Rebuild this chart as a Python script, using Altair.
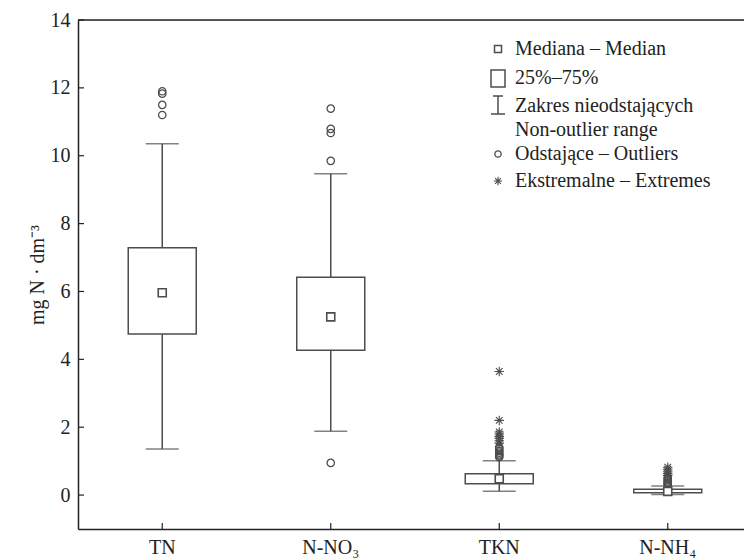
import altair as alt
import pandas as pd

categories = ["TN", "N-NO₃", "TKN", "N-NH₄"]
q1 = [4.75, 4.27, 0.33, 0.07]
median = [5.96, 5.25, 0.48, 0.11]
q3 = [7.29, 6.42, 0.63, 0.17]
whisker_low = [1.36, 1.88, 0.11, 0.02]
whisker_high = [10.35, 9.47, 1.01, 0.27]

outliers_tn = [11.2, 11.5, 11.83, 11.9]
outliers_no3 = [0.95, 9.85, 10.67, 10.79, 11.39]
outliers_tkn = [1.12, 1.16, 1.2, 1.25, 1.3, 1.36, 1.41]
outliers_nh4 = [0.3, 0.33, 0.36, 0.4, 0.44, 0.48, 0.52]
extremes_tkn = [1.53, 1.6, 1.67, 1.73, 1.8, 1.86, 2.2, 3.64]
extremes_nh4 = [0.58, 0.64, 0.7, 0.76, 0.82]

y_ticks = [0, 2, 4, 6, 8, 10, 12, 14]
legend_labels = ["Mediana – Median", "25%–75%", "Zakres nieodstających",
                 "Non-outlier range", "Odstające – Outliers", "Ekstremalne – Extremes"]
y_title = "mg N · dm⁻³"

FONT = "Liberation Serif"
BOX = "#4d4d4d"
AX = "#222222"
W, H = 666, 509
FS = 20

stats = pd.DataFrame({"cat": categories, "q1": q1, "med": median, "q3": q3,
                      "lo": whisker_low, "hi": whisker_high})
out_df = pd.DataFrame(
    [{"cat": categories[0], "v": v} for v in outliers_tn]
    + [{"cat": categories[1], "v": v} for v in outliers_no3]
    + [{"cat": categories[2], "v": v} for v in outliers_tkn]
    + [{"cat": categories[3], "v": v} for v in outliers_nh4])
ext_df = pd.DataFrame(
    [{"cat": categories[2], "v": v} for v in extremes_tkn]
    + [{"cat": categories[3], "v": v} for v in extremes_nh4])
tick_df = pd.DataFrame({"v": y_ticks})
dummy = pd.DataFrame({"k": [0]})

xscale = alt.Scale(domain=categories, range=[0, 674], paddingInner=0, paddingOuter=0)
yscale = alt.Scale(domain=[-1, 14], nice=False, zero=False)

xaxis = alt.Axis(title=None, labelAngle=0, labelFont=FONT, labelFontSize=FS,
                 labelColor=AX, tickSize=0, labelPadding=8,
                 domainColor=AX, domainWidth=1.5, grid=False)
yaxis = alt.Axis(values=y_ticks, title=y_title, titleFont=FONT, titleFontSize=FS,
                 titleFontWeight="normal", titleColor=AX, titlePadding=3,
                 labelFont=FONT, labelFontSize=FS, labelColor=AX, labelPadding=8,
                 tickSize=0, grid=False, domainColor=AX, domainWidth=1.5)


def X():
    return alt.X("cat:N", scale=xscale, sort=categories, axis=xaxis)


def Y(field):
    return alt.Y(field, scale=yscale, axis=yaxis)


base = alt.Chart(stats)

whisk_lo = base.mark_rule(color=BOX, strokeWidth=1.5).encode(
    x=X(), y=Y("lo:Q"), y2="q1:Q")
whisk_hi = base.mark_rule(color=BOX, strokeWidth=1.5).encode(
    x=X(), y=Y("q3:Q"), y2="hi:Q")
cap_lo = base.mark_tick(orient="horizontal", size=33, thickness=1.5, color=BOX).encode(
    x=X(), y=Y("lo:Q"))
cap_hi = base.mark_tick(orient="horizontal", size=33, thickness=1.5, color=BOX).encode(
    x=X(), y=Y("hi:Q"))
box = base.mark_bar(size=68, fill="white", stroke=BOX, strokeWidth=1.5).encode(
    x=X(), y=Y("q1:Q"), y2="q3:Q")

outl = alt.Chart(out_df).mark_point(shape="circle", size=55, filled=False,
                                    color=BOX, strokeWidth=1.3, opacity=1).encode(
    x=X(), y=Y("v:Q"))
ASTER = "M-1,0L1,0M0,-1L0,1M-0.7,-0.7L0.7,0.7M-0.7,0.7L0.7,-0.7"
extr = alt.Chart(ext_df).mark_point(shape=ASTER, size=90, filled=False,
                                    color=BOX, strokeWidth=1.1, opacity=1).encode(
    x=X(), y=Y("v:Q"))
med = base.mark_square(size=64, fill="white", stroke=BOX, strokeWidth=1.6, opacity=1).encode(
    x=X(), y=Y("med:Q"))

# inward axis ticks
yticks = alt.Chart(tick_df).mark_rule(color=AX, strokeWidth=1.2).encode(
    y=Y("v:Q"), x=alt.value(0), x2=alt.value(6))
xticks = base.mark_rule(color=AX, strokeWidth=1.2).encode(
    x=X(), y=alt.value(H), y2=alt.value(H - 6))
top_border = alt.Chart(dummy).mark_rule(color=AX, strokeWidth=1.5).encode(
    x=alt.value(0), x2=alt.value(680), y=alt.value(0))

# legend
LX, TX = 420, 437
leg = []
leg.append(alt.Chart(dummy).mark_square(size=49, fill="white", stroke=BOX,
                                        strokeWidth=1.5, opacity=1).encode(
    x=alt.value(LX), y=alt.value(29)))
leg.append(alt.Chart(dummy).mark_rect(fill="white", stroke=BOX, strokeWidth=1.5).encode(
    x=alt.value(LX - 7), x2=alt.value(LX + 7), y=alt.value(50), y2=alt.value(67)))
leg.append(alt.Chart(dummy).mark_rule(color=BOX, strokeWidth=1.5).encode(
    x=alt.value(LX - 5), x2=alt.value(LX + 5), y=alt.value(76)))
leg.append(alt.Chart(dummy).mark_rule(color=BOX, strokeWidth=1.5).encode(
    x=alt.value(LX), y=alt.value(76), y2=alt.value(94)))
leg.append(alt.Chart(dummy).mark_rule(color=BOX, strokeWidth=1.5).encode(
    x=alt.value(LX - 7), x2=alt.value(LX + 7), y=alt.value(94)))
leg.append(alt.Chart(dummy).mark_point(shape="circle", size=40, filled=False, color=BOX,
                                       strokeWidth=1.3, opacity=1).encode(
    x=alt.value(LX), y=alt.value(134)))
leg.append(alt.Chart(dummy).mark_point(shape=ASTER, size=70, filled=False, color=BOX,
                                       strokeWidth=1.1, opacity=1).encode(
    x=alt.value(LX), y=alt.value(161)))
for lab, yy in zip(legend_labels, [29, 58, 86, 110, 134, 161]):
    leg.append(alt.Chart(dummy).mark_text(text=lab, align="left", baseline="middle",
                                          font=FONT, fontSize=FS, color=AX).encode(
        x=alt.value(TX), y=alt.value(yy)))

chart = alt.layer(whisk_lo, whisk_hi, cap_lo, cap_hi, box, outl, extr, med,
                  yticks, xticks, top_border, *leg).properties(
    width=W, height=H,
    autosize=alt.AutoSizeParams(type="none"),
    padding={"left": 78, "top": 20, "right": 0, "bottom": 29},
).configure_view(stroke=None).configure(background="white")

chart.save("out.html", embed_options={"renderer": "svg", "actions": False})
